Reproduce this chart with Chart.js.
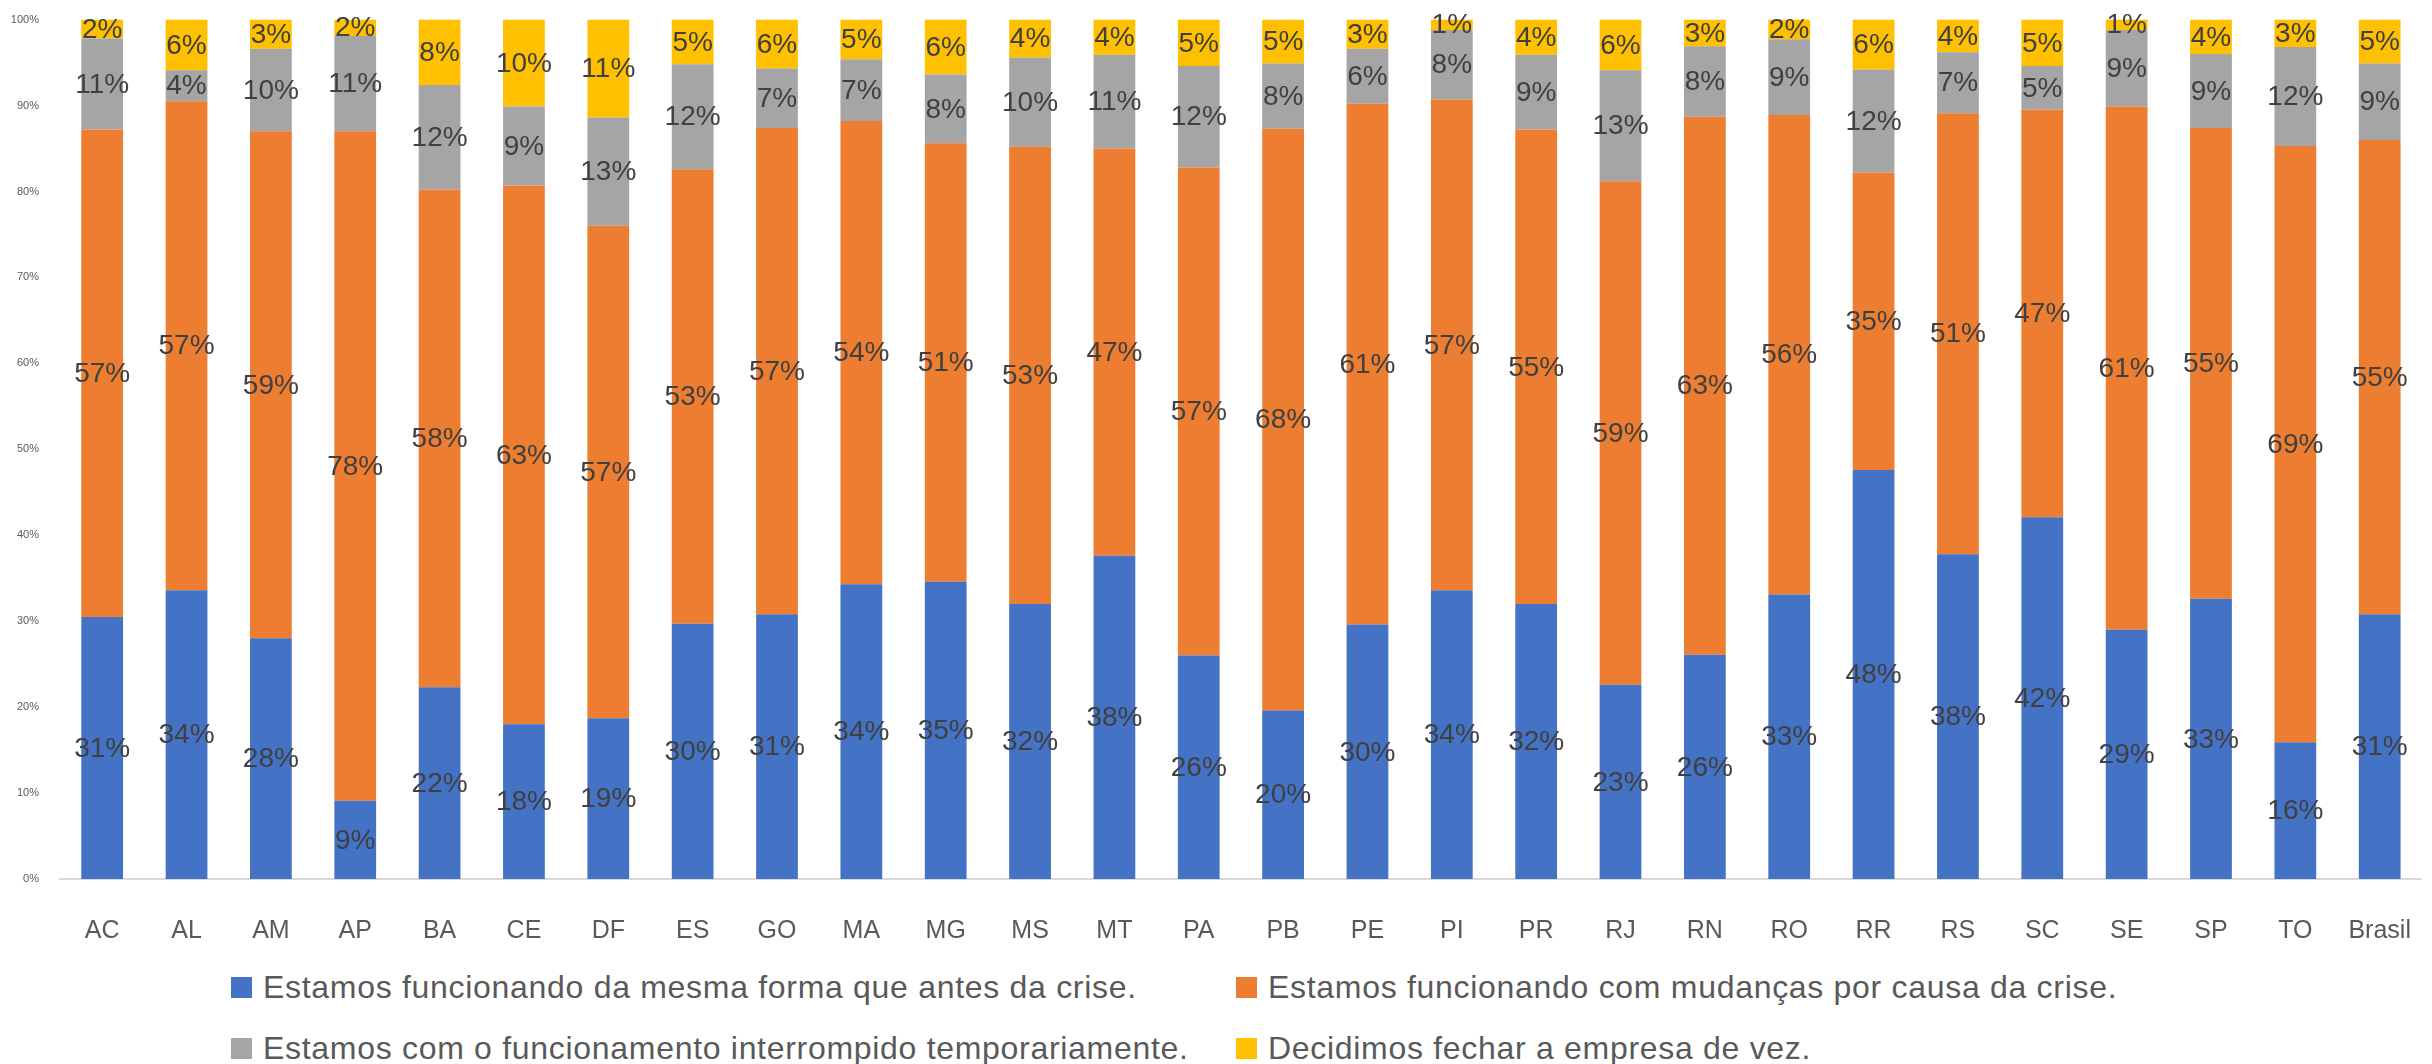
<!DOCTYPE html>
<html lang="pt-BR">
<head>
    <meta charset="UTF-8">
    <title>Situação das empresas por UF</title>
    <script src="https://cdn.jsdelivr.net/npm/chart.js"></script>
    <style>
        html, body {
            margin: 0;
            padding: 0;
            background: #ffffff;
            overflow: hidden;
            width: 2432px;
            height: 1064px;
        }
        .grafico {
            position: absolute;
            left: 0;
            top: 0;
            width: 2440px;
            height: 945px;
        }
        .legenda {
            position: absolute;
            left: 231px;
            font-family: "Liberation Sans", Arial, sans-serif;
            font-size: 32px;
            letter-spacing: 0.7px;
            color: #595959;
            display: grid;
            grid-template-columns: 1005px auto;
            row-gap: 21px;
            top: 967px;
        }
        .item {
            display: flex;
            align-items: center;
            height: 40px;
            white-space: nowrap;
        }
        .caixa {
            width: 21px;
            height: 21px;
            margin-right: 11px;
            flex: none;
        }
    </style>
</head>

<body>
    <div class="grafico">
        <canvas id="graficoUF" width="2440" height="945"></canvas>
    </div>

    <div class="legenda" id="legenda"></div>

    <script>
        // valores (% de empresas)
        const estados = ['AC', 'AL', 'AM', 'AP', 'BA', 'CE', 'DF', 'ES', 'GO', 'MA', 'MG', 'MS', 'MT', 'PA',
            'PB', 'PE', 'PI', 'PR', 'RJ', 'RN', 'RO', 'RR', 'RS', 'SC', 'SE', 'SP', 'TO', 'Brasil'];

        const mesmaForma = [30.5, 33.6, 28.0, 9.1, 22.3, 18.0, 18.7, 29.7, 30.8, 34.3, 34.6, 32.0, 37.6, 26.0,
            19.6, 29.6, 33.6, 32.0, 22.6, 26.1, 33.1, 47.6, 37.8, 42.1, 29.0, 32.6, 15.9, 30.8];
        const comMudancas = [56.7, 56.9, 59.0, 77.9, 57.9, 62.7, 57.3, 52.9, 56.6, 53.9, 51.0, 53.2, 47.4, 56.8,
            67.7, 60.6, 57.1, 55.2, 58.6, 62.6, 55.8, 34.6, 51.3, 47.4, 60.9, 54.8, 69.4, 55.2];
        const interrompido = [10.6, 3.6, 9.6, 11.1, 12.2, 9.2, 12.6, 12.2, 6.9, 7.2, 8.0, 10.4, 10.9, 11.8,
            7.6, 6.4, 8.1, 8.7, 12.9, 8.2, 8.8, 12.0, 7.1, 5.1, 8.9, 8.6, 11.5, 8.9];
        const fechou = [2.2, 5.9, 3.4, 1.9, 7.6, 10.1, 11.4, 5.2, 5.7, 4.6, 6.4, 4.4, 4.1, 5.4,
            5.1, 3.4, 1.2, 4.1, 5.9, 3.1, 2.3, 5.8, 3.8, 5.4, 1.2, 4.0, 3.2, 5.1];

        const nomesSeries = [
            'Estamos funcionando da mesma forma que antes da crise.',
            'Estamos funcionando com mudanças por causa da crise.',
            'Estamos com o funcionamento interrompido temporariamente.',
            'Decidimos fechar a empresa de vez.'
        ];
        const cores = ['#4472C4', '#ED7D31', '#A5A5A5', '#FFC000'];
        const valores = [mesmaForma, comMudancas, interrompido, fechou];

        const fonte = '"Liberation Sans", Arial, sans-serif';

        // rótulos de porcentagem no meio de cada segmento
        const rotulos = {
            id: 'rotulos',
            afterDatasetsDraw(chart) {
                const ctx = chart.ctx;
                ctx.save();
                ctx.font = '28px ' + fonte;
                ctx.fillStyle = '#404040';
                ctx.textAlign = 'center';
                ctx.textBaseline = 'middle';
                chart.data.datasets.forEach((ds, i) => {
                    chart.getDatasetMeta(i).data.forEach((barra, j) => {
                        const p = barra.getProps(['x', 'y', 'base'], true);
                        ctx.fillText(Math.round(ds.data[j]) + '%', p.x, (p.y + p.base) / 2 + 1);
                    });
                });
                ctx.restore();
            }
        };

        const ctx = document.getElementById('graficoUF').getContext('2d');
        new Chart(ctx, {
            type: 'bar',
            data: {
                labels: estados,
                datasets: valores.map((v, i) => ({
                    label: nomesSeries[i],
                    data: v,
                    backgroundColor: cores[i],
                    borderWidth: 0,
                    barPercentage: 0.495,
                    categoryPercentage: 1
                }))
            },
            options: {
                responsive: false,
                animation: false,
                layout: { padding: { top: 17, right: 3, left: 0, bottom: 0 } },
                plugins: {
                    legend: { display: false },
                    tooltip: { enabled: false }
                },
                scales: {
                    x: {
                        stacked: true,
                        grid: { display: false },
                        border: { display: true, color: '#d9d9d9', width: 2 },
                        ticks: {
                            color: '#595959',
                            font: { family: fonte, size: 25 },
                            padding: 29,
                            maxRotation: 0,
                            autoSkip: false
                        },
                        afterFit: (s) => { s.height = 66; }
                    },
                    y: {
                        stacked: true,
                        min: 0,
                        max: 100,
                        grid: { display: false },
                        border: { display: false },
                        ticks: {
                            stepSize: 10,
                            color: '#595959',
                            font: { family: fonte, size: 11 },
                            padding: 13,
                            callback: (v) => v + '%'
                        },
                        afterFit: (s) => { s.width = 60; }
                    }
                }
            },
            plugins: [rotulos]
        });

        // legenda em duas linhas, como no original
        const legenda = document.getElementById('legenda');
        nomesSeries.forEach((nome, i) => {
            const item = document.createElement('div');
            item.className = 'item';
            item.innerHTML = '<span class="caixa" style="background:' + cores[i] + '"></span><span>' + nome + '</span>';
            legenda.appendChild(item);
        });
    </script>
</body>
</html>
